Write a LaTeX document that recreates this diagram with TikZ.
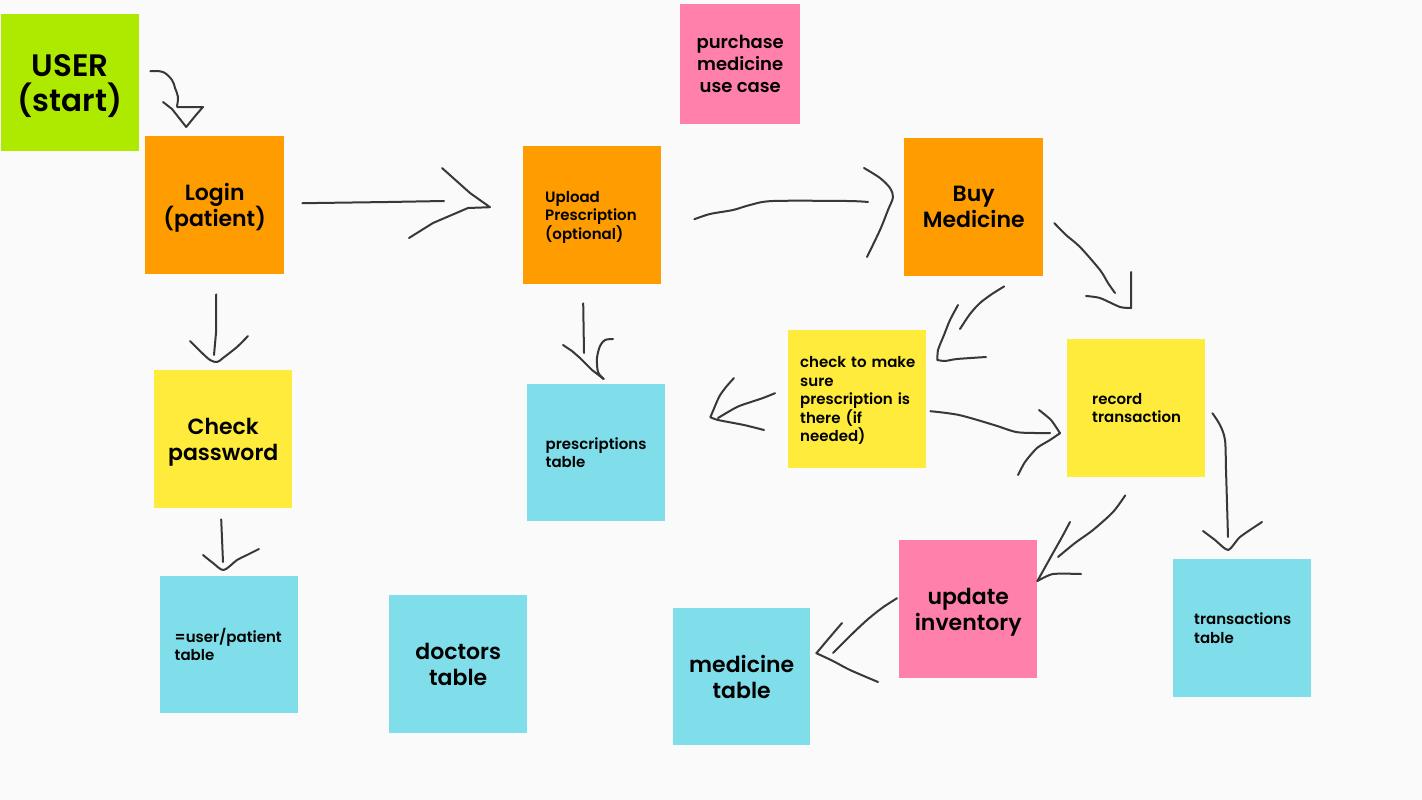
\documentclass[tikz,border=0pt]{standalone}
\usepackage{fontspec}
\setmainfont{Poppins}[BoldFont={Poppins SemiBold}]
\usetikzlibrary{calc}
\definecolor{bg}{HTML}{FAFAFA}
\definecolor{cgreen}{HTML}{AEEA00}
\definecolor{corange}{HTML}{FF9D00}
\definecolor{cpink}{HTML}{FF80AB}
\definecolor{cyellow}{HTML}{FFEB3B}
\definecolor{ccyan}{HTML}{80DEEA}
\definecolor{ink}{HTML}{383838}
\tikzset{
  card/.style={draw=none, inner sep=0pt, anchor=north west, text=black,
    font=\bfseries, minimum width=138pt, minimum height=138pt},
  ctext/.style={align=center},
  ltext/.style={align=left},
  big/.style={font=\bfseries\fontsize{31}{35}\selectfont},
  mid/.style={font=\bfseries\fontsize{22}{26}\selectfont},
  med/.style={font=\bfseries\fontsize{18}{22}\selectfont},
  small/.style={font=\bfseries\fontsize{15}{18.5}\selectfont},
  pen/.style={draw=ink, line width=2pt, line cap=round, line join=round}
}
\begin{document}
\begin{tikzpicture}[x=1pt,y=-1pt]
\fill[bg] (0,0) rectangle (1422,800);
\useasboundingbox (0,0) rectangle (1422,800);

% cards
\node[card, ctext, big, fill=cgreen, minimum height=137pt] (user) at (1,14) {USER\\\smash{(start)}};
\node[card, ctext, mid, fill=corange, minimum width=139pt] (login) at (145,136) {Login\\\smash{(patient)}};
\node[card, ltext, small, fill=corange, text width=94pt, inner xsep=22pt] (upload) at (523,146) {Upload\\\mbox{Prescription}\\\smash{(optional)}};
\node[card, ctext, med, fill=cpink, minimum width=120pt, minimum height=120pt] (purchase) at (680,4) {purchase\\medicine\\use case};
\node[card, ctext, mid, fill=corange, minimum width=139pt] (buy) at (904,138) {Buy\\Medicine};
\node[card, ctext, mid, fill=cyellow] (checkpw) at (154,370) {Check\\\smash{password}};
\node[card, ltext, small, fill=ccyan, text width=101pt, inner xsep=18pt, minimum height=137pt] (prescriptions) at (527,384) {\mbox{prescriptions}\\table};
\node[card, ltext, small, fill=cyellow, text width=114pt, inner xsep=12pt] (checkrx) at (788,330) {\mbox{check to make}\\sure\\\mbox{prescription is}\\\mbox{there (if}\\\smash{needed)}};
\node[card, ltext, small, fill=cyellow, text width=88pt, inner xsep=25pt] (record) at (1067,339) {record\\\mbox{transaction}};
\node[card, ltext, small, fill=ccyan, text width=109pt, inner xsep=14pt, minimum height=137pt] (usertable) at (160,576) {\mbox{=user/patient}\\table};
\node[card, ctext, mid, fill=ccyan] (doctors) at (389,595) {doctors\\table};
\node[card, ctext, mid, fill=ccyan, minimum width=137pt, minimum height=137pt] (medicine) at (673,608) {medicine\\table};
\node[card, ctext, mid, fill=cpink] (update) at (899,540) {update\\\smash{inventory}};
\node[card, ltext, small, fill=ccyan, text width=96pt, inner xsep=21pt] (transactions) at (1173,559) {\mbox{transactions}\\table};

% user -> login
\draw[pen] plot[smooth, tension=0.6] coordinates {([shift={(11,-11.5)}]user.east) (163,72) (172,80) (175,88) (178,97) (177,106)};
\draw[pen] (163,102) -- (172,109) -- ([shift={(-28.5,-9)}]login.north) -- (196,115) -- (203,107) -- (177,107);

% login -> upload
\draw[pen] ([shift={(18,-2)}]login.east) -- (388,202) -- (444,201);
\draw[pen] (442,168) -- (470,193) -- ([shift={(-33,-8)}]upload.west) -- (468,208) -- (433,223) -- (409,238);

% upload -> buy
\draw[pen] plot[smooth, tension=0.5] coordinates {([shift={(33,4)}]upload.east) (710,214) (733,210) (750,205) (773,201) (847,201) (868,202)};
\draw[pen] plot[smooth, tension=0.5] coordinates {(864,168) (880,178) (890,188) ([shift={(-11,-10)}]buy.west) (888,210) (880,230) (867,257)};

% login -> check password
\draw[pen] ([shift={(1.5,20)}]login.south) -- (216,333) -- (214,355);
\draw[pen] plot[smooth, tension=0.5] coordinates {(190,341) (200,351) (210,360) ([shift={(-6,-8)}]checkpw.north) (223,358) (237,347) (248,336)};

% check password -> user table
\draw[pen] ([shift={(-2,11)}]checkpw.south) -- (223,562);
\draw[pen] plot[smooth, tension=0.5] coordinates {(203,555) (213,563) ([shift={(-5.5,-6)}]usertable.north) (237,560) (247,555) (259,549)};

% upload -> prescriptions
\draw[pen] ([shift={(-9,19)}]upload.south) -- (584,353);
\draw[pen] (563,345) -- (572,351) -- (580,358) -- (592,370) -- ([shift={(7.5,-5)}]prescriptions.north);
\draw[pen] plot[smooth, tension=0.5] coordinates {(613,339) (605,340) (600,346) (597,358) (598,372) ([shift={(7.5,-5)}]prescriptions.north)};

% buy -> check prescription
\draw[pen] plot[smooth, tension=0.5] coordinates {([shift={(30.5,10)}]buy.south) (992,294) (980,303) (970,314) (960,329)};
\draw[pen] plot[smooth, tension=0.4] coordinates {(958,305) (950,320) (944,335) (938,350) ([shift={(11,30)}]checkrx.north east)};
\draw[pen] plot[smooth, tension=0.4] coordinates {([shift={(11,30)}]checkrx.north east) (945,361) (957,359) (986,357)};

% check prescription -> prescriptions table
\draw[pen] plot[smooth, tension=0.5] coordinates {([shift={(-13,-6)}]checkrx.west) (763,398) (751,402) (737,407) (718,418)};
\draw[pen] plot[smooth, tension=0.4] coordinates {(734,378) (726,387) (719,397) ([shift={(45,-35.5)}]prescriptions.east)};
\draw[pen] plot[smooth, tension=0.4] coordinates {([shift={(45,-35.5)}]prescriptions.east) (718,420) (744,425) (764,430)};

% check prescription -> record
\draw[pen] plot[smooth, tension=0.5] coordinates {([shift={(4,12)}]checkrx.east) (959,415) (994,425) (1016,432) (1035,433) (1050,433)};
\draw[pen] plot[smooth, tension=0.4] coordinates {(1039,410) (1051,420) ([shift={(-7,25)}]record.west)};
\draw[pen] plot[smooth, tension=0.4] coordinates {([shift={(-7,25)}]record.west) (1050,440) (1037,448) (1025,462) (1018,475)};

% buy -> record
\draw[pen] plot[smooth, tension=0.5] coordinates {([shift={(11,16)}]buy.east) (1066,235) (1080,247) (1100,270) (1108,283) (1115,293)};
\draw[pen] plot[smooth, tension=0.3] coordinates {(1131,272) (1131,290) ([shift={(-5,-31)}]record.north)};
\draw[pen] plot[smooth, tension=0.4] coordinates {([shift={(-5,-31)}]record.north) (1120,307) (1100,298) (1086,296)};

% record -> transactions
\draw[pen] plot[smooth, tension=0.5] coordinates {([shift={(7,5)}]record.east) (1220,425) (1225,440) (1226,470) (1227,503) (1228,537)};
\draw[pen] plot[smooth, tension=0.4] coordinates {(1203,531) (1215,540) ([shift={(-14,-9)}]transactions.north) (1240,537) (1262,522)};

% record -> update inventory
\draw[pen] plot[smooth, tension=0.5] coordinates {([shift={(-11,18)}]record.south) (1113,512) (1093,530) (1075,543) (1058,557)};
\draw[pen] plot[smooth, tension=0.4] coordinates {(1070,522) (1062,537) (1053,553) ([shift={(0,41)}]update.north east)};
\draw[pen] plot[smooth, tension=0.4] coordinates {([shift={(0,41)}]update.north east) (1053,574) (1081,574)};

% update inventory -> medicine table
\draw[pen] plot[smooth, tension=0.5] coordinates {([shift={(-2,-11)}]update.west) (882,608) (867,620) (850,636) (833,653)};
\draw[pen] plot[smooth, tension=0.4] coordinates {(842,623) (830,637) ([shift={(6,-23.5)}]medicine.east)};
\draw[pen] plot[smooth, tension=0.4] coordinates {([shift={(6,-23.5)}]medicine.east) (833,661) (850,670) (878,682)};
\end{tikzpicture}
\end{document}
